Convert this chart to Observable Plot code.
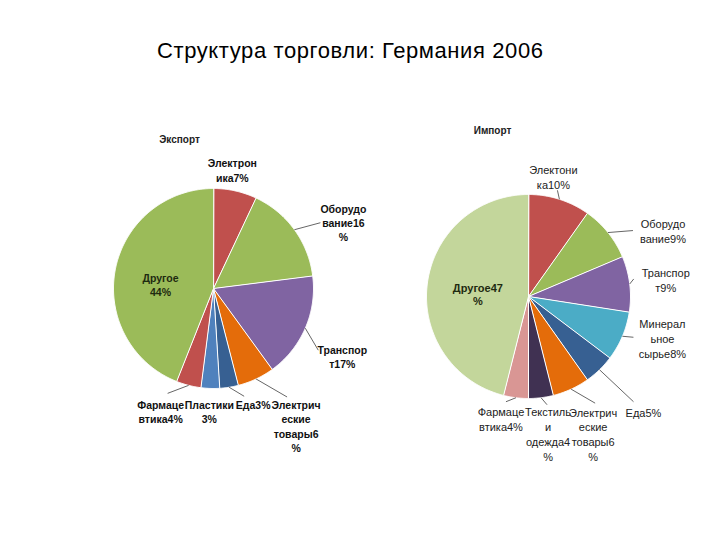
<!DOCTYPE html>
<html><head><meta charset="utf-8">
<script src="https://cdn.jsdelivr.net/npm/d3@7"></script>
<script src="https://cdn.jsdelivr.net/npm/@observablehq/plot@0.6"></script>
<style>
html,body{margin:0;padding:0;background:#fff;}
#wrap{width:720px;height:540px;position:relative;overflow:hidden;}
#title{position:absolute;left:157px;top:40px;font-family:"Liberation Sans",Arial,sans-serif;font-size:22px;letter-spacing:0.6px;line-height:21px;color:#000;white-space:nowrap;}
#chart{position:absolute;left:0;top:100px;}
</style></head><body>
<div id="wrap"><div id="title">Структура торговли: Германия 2006</div><div id="chart"></div></div>
<script>
// ---- data ----
const exportTitle = "Экспорт";
const exportCategories = ["Электроника","Оборудование","Транспорт","Электрические товары","Еда","Пластики","Фармацевтика","Другое"];
const exportValues = [7,16,17,6,3,3,4,44];
const exportLabels = ["Электрон\nика7%","Оборудо\nвание16\n%","Транспор\nт17%","Электрич\nеские\nтовары6\n%","Еда3%","Пластики\n3%","Фармаце\nвтика4%","Другое\n44%"];

const importTitle = "Импорт";
const importCategories = ["Электроника","Оборудование","Транспорт","Минеральное сырье","Еда","Электрические товары","Текстиль и одежда","Фармацевтика","Другое"];
const importValues = [10,9,9,8,5,6,4,4,47];
const importLabels = ["Электони\nка10%","Оборудо\nвание9%","Транспор\nт9%","Минерал\nьное\nсырье8%","Еда5%","Электрич\nеские\nтовары6\n%","Текстиль\nи\nодежда4\n%","Фармаце\nвтика4%","Другое47\n%"];

// ---- styles ----
const exportColors = ["#C0504D","#9BBB59","#8064A2","#E46C0A","#376092","#4F81BD","#C0504D","#9BBB59"];
const importColors = ["#C0504D","#9BBB59","#8064A2","#4BACC6","#376092","#E46C0A","#403152","#D99694","#C3D69B"];

// ---- layout (page pixels) ----
const exportPie = {cx:213, cy:288, r:100, titleDx:-34, titleDy:-149};
const importPie = {cx:528, cy:296, r:102, titleDx:-36, titleDy:-166};
// per slice: label offset from the rim point at mid-angle, leader end offset (null = none), inside radius factor
const exportLayout = [
  {lx:-3, ly:-21, leader:null},
  {lx:49, ly:-7, leader:[26,-7]},
  {lx:37, ly:28, leader:[13,22]},
  {lx:40, ly:47, leader:[31,18]},
  {lx:24, ly:17, leader:[15,9]},
  {lx:-1, ly:23, leader:null},
  {lx:-28, ly:26, leader:[-21,8]},
  {inside:0.54, lx:0, ly:6, leader:null}
];
const importLayout = [
  {lx:-6, ly:-23, leader:[-2,-9]},
  {lx:55, ly:-2, leader:[25,-2]},
  {lx:36, ly:-4, leader:[4,-5]},
  {lx:40, ly:2, leader:[11,1]},
  {lx:44, ly:42, leader:[34,32]},
  {lx:22, ly:45, leader:[24,14]},
  {lx:7, ly:36, leader:[6,7]},
  {lx:-15, ly:21, leader:[-10,4]},
  {inside:0.5, lx:0, ly:4, leader:null}
];

function buildPie(name, cats, vals, labels, colors, geo, layout) {
  const arcs = d3.pie().sort(null).value(d => d)(vals);
  const polys = [], texts = [], links = [];
  arcs.forEach((a, i) => {
    const key = name + i;
    const n = Math.max(2, Math.ceil((a.endAngle - a.startAngle) / 0.01));
    polys.push({key, x: geo.cx, y: geo.cy, color: colors[i]});
    for (let k = 0; k <= n; k++) {
      const t = a.startAngle + (a.endAngle - a.startAngle) * k / n;
      polys.push({key, x: geo.cx + geo.r * Math.sin(t), y: geo.cy - geo.r * Math.cos(t), color: colors[i]});
    }
    const mid = (a.startAngle + a.endAngle) / 2;
    const L = layout[i];
    const rr = geo.r * (L.inside || 1);
    const ax = geo.cx + rr * Math.sin(mid), ay = geo.cy - rr * Math.cos(mid);
    texts.push({x: ax + L.lx, y: ay + L.ly, text: labels[i], inside: !!L.inside, cat: cats[i]});
    if (L.leader) links.push({x1: ax, y1: ay, x2: ax + L.leader[0], y2: ay + L.leader[1]});
  });
  return {polys, texts, links};
}

const ex = buildPie("e", exportCategories, exportValues, exportLabels, exportColors, exportPie, exportLayout);
const im = buildPie("i", importCategories, importValues, importLabels, importColors, importPie, importLayout);

const font = "'Liberation Sans', Arial, sans-serif";
const chart = Plot.plot({
  width: 720, height: 440, margin: 0,
  x: {domain: [0, 720], range: [0, 720], axis: null},
  y: {domain: [100, 540], range: [0, 440], axis: null},
  color: {type: "identity"},
  style: {fontFamily: font, background: "white"},
  marks: [
    Plot.line(ex.polys, {x: "x", y: "y", z: "key", fill: "color", stroke: "white", strokeWidth: 1, curve: "linear-closed"}),
    Plot.line(im.polys, {x: "x", y: "y", z: "key", fill: "color", stroke: "white", strokeWidth: 1, curve: "linear-closed"}),
    Plot.link(ex.links, {x1: "x1", y1: "y1", x2: "x2", y2: "y2", stroke: "#333", strokeWidth: 0.75}),
    Plot.link(im.links, {x1: "x1", y1: "y1", x2: "x2", y2: "y2", stroke: "#333", strokeWidth: 0.75}),
    Plot.text(ex.texts, {x: "x", y: "y", text: "text", fontSize: 10.5, fontWeight: "bold", lineHeight: 1.35, fill: d => d.inside ? "#1e2a10" : "#111"}),
    Plot.text(im.texts.filter(d => !d.inside), {x: "x", y: "y", text: "text", fontSize: 11, lineHeight: 1.36, fill: "#222"}),
    Plot.text(im.texts.filter(d => d.inside), {x: "x", y: "y", text: "text", fontSize: 11, fontWeight: "bold", lineHeight: 1.25, fill: "#1e2a10"}),
    Plot.text([{t: exportTitle, x: exportPie.cx + exportPie.titleDx, y: exportPie.cy + exportPie.titleDy},
               {t: importTitle, x: importPie.cx + importPie.titleDx, y: importPie.cy + importPie.titleDy}],
      {x: "x", y: "y", text: "t", fontSize: 10, fontWeight: "bold", fill: "#222"})
  ]
});
document.getElementById("chart").appendChild(chart);
</script>
</body></html>
